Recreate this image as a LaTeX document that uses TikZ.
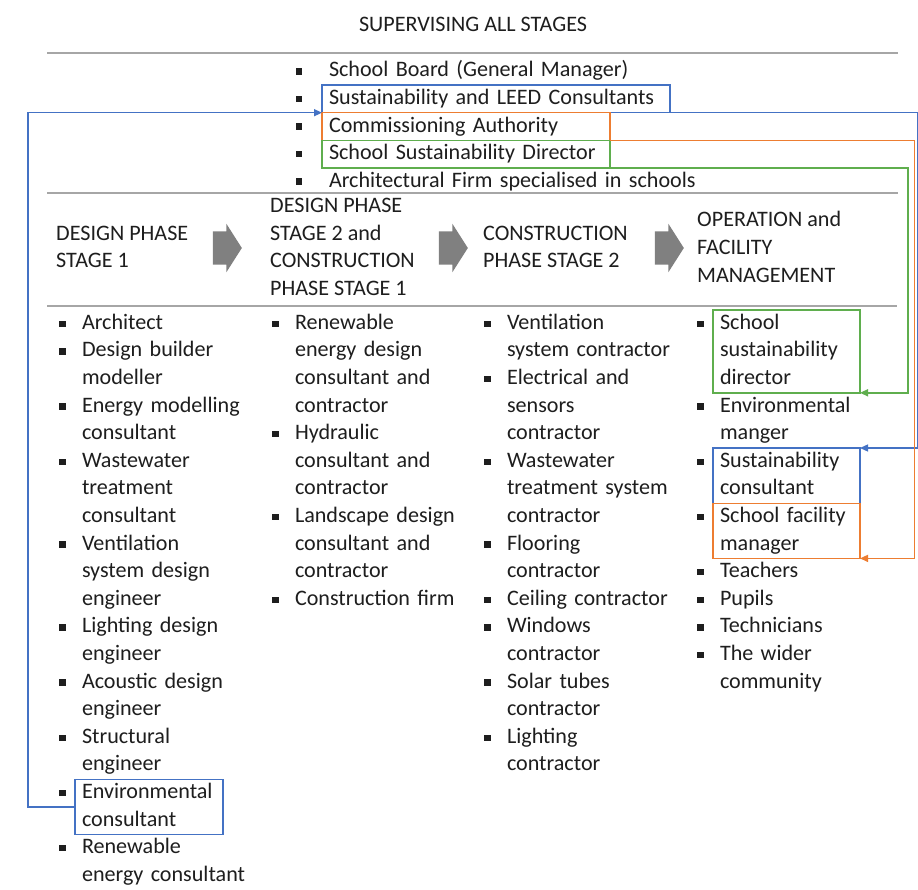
\documentclass[tikz,border=0pt]{standalone}
\usepackage{fontspec}
\setmainfont{Carlito}
\usetikzlibrary{arrows.meta,shapes.arrows}
\definecolor{linkBlue}{HTML}{4472C4}
\definecolor{linkOrange}{HTML}{ED7D31}
\definecolor{linkGreen}{HTML}{5FAE4E}
\definecolor{ruleGrey}{HTML}{A6A6A6}
\definecolor{stepGrey}{HTML}{808080}
\definecolor{inkGrey}{HTML}{1E1E1E}
\newcommand{\sqbullet}[1]{\llap{\rule[2.3pt]{6.5pt}{6.5pt}\hspace{#1}}}
\def\bulletgap{16.5pt}
\hyphenpenalty=10000
\exhyphenpenalty=10000

\begin{document}
\begin{tikzpicture}[
  x=1pt, y=-1pt,
  font=\fontsize{22.1pt}{27.6pt}\selectfont,
  text=inkGrey,
  bulletgap/.store in=\bulletgap,
  entry/.style={anchor=north west, align=left, inner xsep=7pt, inner ysep=0pt,
                outer sep=0pt, text width=#1,
                execute at begin node={\strut\sqbullet{\bulletgap}},
                execute at end node={\strut}},
  entry/.default=190pt,
  boardentry/.style={entry=#1, bulletgap=27pt},
  boardentry/.default=420pt,
  phasehead/.style={anchor=west, align=left, inner sep=0pt,
                    execute at begin node={\strut}, execute at end node={\strut}},
  phasearrow/.style={single arrow, fill=stepGrey, draw=none, inner sep=0pt,
                     text height=16.5pt, text depth=16.5pt, text width=0pt,
                     minimum height=29pt,
                     single arrow head extend=7.5pt, single arrow tip angle=115},
  bluebox/.style={draw=linkBlue, line width=1.4pt},
  orangebox/.style={draw=linkOrange, line width=1.4pt},
  greenbox/.style={draw=linkGreen, line width=1.4pt},
  hline/.style={draw=ruleGrey, line width=2.5pt},
  link/.style={line width=1.4pt, -{Triangle[length=8pt,width=7pt]}},
  bluelink/.style={link, draw=linkBlue},
  orangelink/.style={link, draw=linkOrange},
  greenlink/.style={link, draw=linkGreen}
]
\useasboundingbox (0,0) rectangle (918,890);
\fill[white] (0,0) rectangle (918,890);

% supervising block
\node[inner sep=0pt] (title) at (473,24) {SUPERVISING ALL STAGES};
\draw[hline] (47,53) -- (898,53);
\node[boardentry] (board) at (322,57.5) {School Board (General Manager)};
\node[boardentry=334pt, bluebox] (leed) at (board.south west) {Sustainability and LEED Consultants};
\node[boardentry=274pt, orangebox] (cauth) at (leed.south west) {Commissioning Authority};
\node[boardentry=274pt, greenbox] (topdir) at (cauth.south west) {School Sustainability Director};
\node[boardentry] (afirm) at (topdir.south west) {Architectural Firm specialised in schools};
\draw[hline] (47,193) -- (898,193);

% phase headings
\node[phasehead] (hdes1) at (56,251) {DESIGN PHASE\\STAGE 1};
\node[phasehead] (hdes2) at (270,251) {DESIGN PHASE\\STAGE 2 and\\CONSTRUCTION\\PHASE STAGE 1};
\node[phasehead] (hcon2) at (483,251) {CONSTRUCTION\\PHASE STAGE 2};
\node[phasehead] (hops) at (697,251) {OPERATION and\\FACILITY\\MANAGEMENT};
\node[phasearrow] (step1) at (222,248) {};
\node[phasearrow] (step2) at (448,248) {};
\node[phasearrow] (step3) at (664,248) {};
\draw[hline] (47,306) -- (897,306);

% design phase stage 1
\node[entry] (arch) at (75,310) {Architect};
\node[entry] (dbm) at (arch.south west) {Design builder\\modeller};
\node[entry] (emc) at (dbm.south west) {Energy modelling\\consultant};
\node[entry] (wwc) at (emc.south west) {Wastewater\\treatment\\consultant};
\node[entry] (vsde) at (wwc.south west) {Ventilation\\system design\\engineer};
\node[entry] (lde) at (vsde.south west) {Lighting design\\engineer};
\node[entry] (ade) at (lde.south west) {Acoustic design\\engineer};
\node[entry] (stre) at (ade.south west) {Structural\\engineer};
\node[entry=134pt, bluebox] (envc) at (stre.south west) {Environmental\\consultant};
\node[entry] (renc) at (envc.south west) {Renewable\\energy consultant};

% design phase stage 2 and construction phase stage 1
\node[entry] (redc) at (288,310) {Renewable\\energy design\\consultant and\\contractor};
\node[entry] (hydc) at (redc.south west) {Hydraulic\\consultant and\\contractor};
\node[entry] (lndc) at (hydc.south west) {Landscape design\\consultant and\\contractor};
\node[entry] (cfirm) at (lndc.south west) {Construction firm};

% construction phase stage 2
\node[entry] (vsc) at (500,310) {Ventilation\\system contractor};
\node[entry] (esc) at (vsc.south west) {Electrical and\\sensors\\contractor};
\node[entry] (wtsc) at (esc.south west) {Wastewater\\treatment system\\contractor};
\node[entry] (floorc) at (wtsc.south west) {Flooring\\contractor};
\node[entry] (ceilc) at (floorc.south west) {Ceiling contractor};
\node[entry] (windc) at (ceilc.south west) {Windows\\contractor};
\node[entry] (solc) at (windc.south west) {Solar tubes\\contractor};
\node[entry] (lightc) at (solc.south west) {Lighting\\contractor};

% operation and facility management
\node[entry=133pt, greenbox] (opdir) at (713,310) {School\\sustainability\\director};
\node[entry=133pt] (envm) at (opdir.south west) {Environmental\\manger};
\node[entry=133pt, bluebox] (opsust) at (envm.south west) {Sustainability\\consultant};
\node[entry=133pt, orangebox] (opfac) at (opsust.south west) {School facility\\manager};
\node[entry=133pt] (teach) at (opfac.south west) {Teachers};
\node[entry=133pt] (pupil) at (teach.south west) {Pupils};
\node[entry=133pt] (techn) at (pupil.south west) {Technicians};
\node[entry=133pt] (wider) at (techn.south west) {The wider\\community};

% links
\coordinate (westrail) at (28,0);
\coordinate (greenrail) at (908,0);
\coordinate (orangerail) at (914.5,0);
\coordinate (bluerail) at (917.5,0);
\draw[bluelink] (envc.west) -- (envc.west -| westrail) |- (leed.south west);
\draw[bluelink] (leed.south east) -- (leed.south east -| bluerail) |- (opsust.north east);
\draw[orangelink] (cauth.south east) -- (cauth.south east -| orangerail) |- (opfac.south east);
\draw[greenlink] (topdir.south east) -- (topdir.south east -| greenrail) |- (opdir.south east);
\end{tikzpicture}
\end{document}
